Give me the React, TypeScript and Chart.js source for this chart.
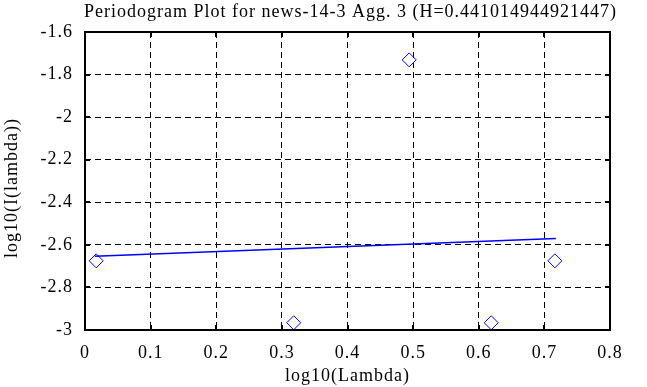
import React, { useEffect, useRef } from "react";
import { Chart, registerables } from "chart.js";

Chart.register(...registerables);

const titleText = "Periodogram Plot for news-14-3 Agg. 3 (H=0.441014944921447)";
const xAxisTitle = "log10(Lambda)";
const yAxisTitle = "log10(I(lambda))";

const lambdaX = [0.017, 0.318, 0.494, 0.619, 0.716];
const periodY = [-2.675, -2.966, -1.731, -2.966, -2.675];

const fitX = [0.015, 0.7175];
const fitY = [-2.654, -2.57];

const xTicks = [0, 0.1, 0.2, 0.3, 0.4, 0.5, 0.6, 0.7, 0.8];
const yTicks = [-3, -2.8, -2.6, -2.4, -2.2, -2, -1.8, -1.6];

const FONT = "'Liberation Serif', 'Times New Roman', serif";

const fmt = (v: number) => String(Number(v.toFixed(1)));

const framePlugin = {
  id: "frame",
  beforeDraw(chart: any) {
    try {
      (chart.ctx as any).letterSpacing = "1px";
    } catch (e) {}
  },
  afterDraw(chart: any) {
    const { ctx, chartArea } = chart;
    const { left, right, top, bottom } = chartArea;
    const xs = chart.scales.x;
    const ys = chart.scales.y;
    ctx.save();
    ctx.strokeStyle = "#000";
    ctx.lineWidth = 2;
    ctx.setLineDash([]);
    ctx.strokeRect(left, top, right - left, bottom - top);
    const tl = 5;
    ctx.beginPath();
    for (const t of xTicks) {
      const px = Math.round(xs.getPixelForValue(t));
      ctx.moveTo(px, bottom);
      ctx.lineTo(px, bottom - tl);
      ctx.moveTo(px, top);
      ctx.lineTo(px, top + tl);
    }
    for (const t of yTicks) {
      const py = Math.round(ys.getPixelForValue(t));
      ctx.moveTo(left, py);
      ctx.lineTo(left + tl, py);
      ctx.moveTo(right, py);
      ctx.lineTo(right - tl, py);
    }
    ctx.stroke();
    ctx.fillStyle = "#000";
    ctx.font = `18px ${FONT}`;
    ctx.textAlign = "center";
    ctx.textBaseline = "middle";
    ctx.fillText(titleText, (left + right) / 2 + 3, 12);
    // y axis title
    ctx.save();
    ctx.translate(12, 188);
    ctx.rotate(-Math.PI / 2);
    ctx.fillText(yAxisTitle, 0, 0);
    ctx.restore();
    ctx.restore();
  },
};

export default function App() {
  const ref = useRef<HTMLCanvasElement | null>(null);
  useEffect(() => {
    document.body.style.margin = "0";
    const canvas = ref.current;
    if (!canvas) return;
    const chart = new Chart(canvas, {
      type: "scatter",
      data: {
        datasets: [
          {
            type: "line",
            label: "fit",
            data: fitX.map((x, i) => ({ x, y: fitY[i] })),
            borderColor: "#0000ff",
            borderWidth: 1.5,
            pointRadius: 0,
            fill: false,
            showLine: true,
          } as any,
          {
            label: "periodogram",
            data: lambdaX.map((x, i) => ({ x, y: periodY[i] })),
            pointStyle: "rectRot",
            pointRadius: 7,
            borderColor: "#0000ff",
            borderWidth: 1,
            backgroundColor: "rgba(0,0,0,0)",
          },
        ],
      },
      options: {
        responsive: false,
        animation: false,
        events: [],
        layout: { padding: { top: 32, right: 37, left: 0, bottom: 0 } },
        plugins: {
          legend: { display: false },
          title: { display: false },
          tooltip: { enabled: false },
        },
        scales: {
          x: {
            type: "linear",
            min: 0,
            max: 0.8,
            afterFit: (s: any) => {
              s.height = 57;
            },
            afterBuildTicks: (s: any) => {
              s.ticks = xTicks.map((v) => ({ value: v }));
            },
            ticks: {
              callback: (v: any) => fmt(Number(v)),
              color: "#000",
              padding: 12,
              maxRotation: 0,
              font: { family: FONT, size: 18 },
            },
            grid: { color: "#000", lineWidth: 1, drawTicks: false },
            border: { display: false, dash: [6, 4] },
            title: {
              display: true,
              text: xAxisTitle,
              color: "#000",
              padding: { top: 0, bottom: 0 },
              font: { family: FONT, size: 18 },
            },
          },
          y: {
            type: "linear",
            min: -3,
            max: -1.6,
            afterFit: (s: any) => {
              s.width = 85;
            },
            afterBuildTicks: (s: any) => {
              s.ticks = yTicks.map((v) => ({ value: v }));
            },
            ticks: {
              callback: (v: any) => fmt(Number(v)),
              color: "#000",
              padding: 12,
              font: { family: FONT, size: 18 },
            },
            grid: { color: "#000", lineWidth: 1, drawTicks: false },
            border: { display: false, dash: [6, 4] },
            title: { display: false, text: yAxisTitle },
          },
        },
      },
      plugins: [framePlugin],
    });
    return () => chart.destroy();
  }, []);
  return (
    <div style={{ width: 647, height: 387 }}>
      <canvas ref={ref} width={647} height={387} />
    </div>
  );
}
